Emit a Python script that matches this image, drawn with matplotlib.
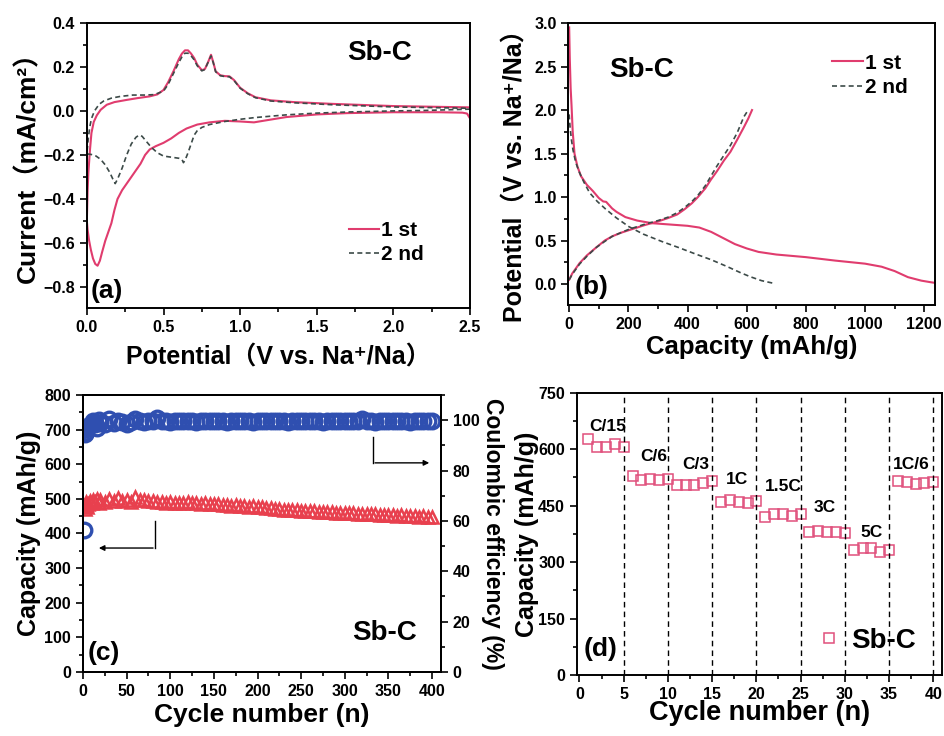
import matplotlib
matplotlib.use("Agg")
import matplotlib.pyplot as plt
import numpy as np
from matplotlib.ticker import MultipleLocator

plt.rcParams['font.family'] = ['Liberation Sans', 'DejaVu Sans', 'Noto Sans CJK SC']
plt.rcParams['font.weight'] = 'bold'
plt.rcParams['axes.labelweight'] = 'bold'
plt.rcParams['axes.linewidth'] = 1.4

RED = '#e03c6e'
DASH = '#3c4a48'
BLUE = '#2f4fb0'
TRI = '#e8404e'
SQ = '#e0507c'

# ---- (a) CV curves: potential (V) / current (mA/cm2)
cv1_v = [2.50, 2.48, 2.45, 2.3, 2.0, 1.7, 1.5, 1.3, 1.15, 1.09,
         1.0, 0.9, 0.8, 0.72, 0.65, 0.6, 0.55, 0.5, 0.45, 0.41,
         0.38, 0.35, 0.3, 0.26, 0.23, 0.2, 0.18, 0.16, 0.14, 0.12,
         0.1, 0.085, 0.07, 0.055, 0.04, 0.026, 0.015, 0.005, 0.0,
         0.005, 0.01, 0.02, 0.03, 0.045, 0.065, 0.09, 0.13, 0.18, 0.26,
         0.33, 0.41, 0.46, 0.5, 0.53, 0.565, 0.6, 0.62, 0.64, 0.66,
         0.68, 0.7, 0.72, 0.75, 0.77, 0.79, 0.81, 0.825, 0.84, 0.87,
         0.9, 0.93, 0.96, 1.0, 1.05, 1.1, 1.2, 1.35, 1.6, 2.0, 2.5]
cv1_i = [-0.035, -0.012, -0.008, -0.006, -0.006, -0.01, -0.016, -0.028, -0.045, -0.052,
         -0.048, -0.045, -0.052, -0.062, -0.08, -0.1, -0.125, -0.145, -0.16, -0.175,
         -0.2, -0.24, -0.29, -0.33, -0.36, -0.4, -0.45, -0.51, -0.55, -0.59,
         -0.64, -0.68, -0.703, -0.695, -0.67, -0.63, -0.59, -0.54, -0.5,
         -0.36, -0.28, -0.18, -0.1, -0.05, -0.02, 0.005, 0.028, 0.04, 0.05,
         0.058, 0.066, 0.075, 0.095, 0.13, 0.18, 0.235, 0.26, 0.275, 0.275,
         0.26, 0.24, 0.21, 0.185, 0.19, 0.22, 0.255, 0.22, 0.18, 0.162,
         0.158, 0.157, 0.14, 0.105, 0.08, 0.062, 0.048, 0.04, 0.032, 0.022, 0.016]

cv2_v = [2.5, 2.2, 2.0, 1.7, 1.5, 1.3, 1.1, 1.0, 0.9, 0.8,
         0.75, 0.72, 0.7, 0.68, 0.66, 0.64, 0.63, 0.62, 0.6, 0.55,
         0.5, 0.46, 0.42, 0.39, 0.36, 0.34, 0.32, 0.29, 0.26, 0.23,
         0.2, 0.185, 0.17, 0.15, 0.12, 0.09, 0.06, 0.03, 0.01, 0.0,
         0.005, 0.01, 0.02, 0.03, 0.05, 0.08, 0.11, 0.16, 0.22, 0.3,
         0.38, 0.44, 0.5, 0.53, 0.565, 0.6, 0.62, 0.64, 0.66, 0.68,
         0.7, 0.72, 0.75, 0.77, 0.79, 0.81, 0.825, 0.84, 0.87, 0.9,
         0.93, 0.96, 1.0, 1.05, 1.1, 1.2, 1.35, 1.6, 2.0, 2.5]
cv2_i = [0.008, 0.002, 0.0, -0.005, -0.01, -0.018, -0.03, -0.038, -0.048, -0.062,
         -0.075, -0.09, -0.11, -0.15, -0.19, -0.225, -0.235, -0.22, -0.215, -0.21,
         -0.205, -0.19, -0.165, -0.14, -0.115, -0.11, -0.12, -0.15, -0.2, -0.26,
         -0.31, -0.33, -0.31, -0.28, -0.245, -0.22, -0.205, -0.198, -0.196, -0.195,
         -0.16, -0.12, -0.07, -0.035, 0.0, 0.03, 0.045, 0.058, 0.066, 0.072,
         0.072, 0.074, 0.09, 0.12, 0.17, 0.22, 0.245, 0.262, 0.262, 0.25,
         0.232, 0.205, 0.182, 0.188, 0.22, 0.25, 0.218, 0.178, 0.16, 0.156,
         0.155, 0.138, 0.103, 0.078, 0.06, 0.045, 0.037, 0.028, 0.018, 0.012]

# ---- (b) charge / discharge: capacity (mAh/g) / potential (V)
dis1_cap = [0, 2, 5, 8, 12, 18, 28, 40, 60, 80, 100, 115, 125, 145, 160, 190, 230, 280,
            340, 400, 440, 480, 520, 560, 600, 640, 700, 800, 900, 1000, 1056, 1100,
            1145, 1190, 1225, 1245]
dis1_v = [2.95, 2.6, 2.25, 2.05, 1.75, 1.5, 1.35, 1.24, 1.14, 1.07, 0.99, 0.95, 0.945, 0.87,
          0.83, 0.77, 0.73, 0.7, 0.685, 0.67, 0.65, 0.6, 0.53, 0.46, 0.41, 0.37, 0.34,
          0.31, 0.27, 0.235, 0.2, 0.15, 0.08, 0.04, 0.02, 0.01]
chg1_cap = [0, 10, 35, 60, 91, 120, 146, 175, 202, 257, 300, 335, 365, 390, 415, 435,
            460, 479, 500, 523, 545, 568, 590, 605, 618]
chg1_v = [0.05, 0.12, 0.24, 0.33, 0.42, 0.5, 0.55, 0.59, 0.62, 0.68, 0.72, 0.76, 0.8,
          0.86, 0.93, 1.0, 1.1, 1.2, 1.3, 1.42, 1.52, 1.66, 1.8, 1.9, 2.0]
dis2_cap = [0, 3, 8, 13, 22, 35, 50, 69, 95, 124, 160, 202, 250, 313, 370, 424, 480,
            535, 580, 612, 650, 690]
dis2_v = [1.95, 1.8, 1.65, 1.54, 1.4, 1.28, 1.17, 1.05, 0.95, 0.86, 0.76, 0.66, 0.575,
          0.49, 0.42, 0.35, 0.28, 0.2, 0.13, 0.085, 0.04, 0.01]
chg2_cap = [0, 10, 35, 60, 91, 120, 146, 202, 257, 300, 335, 365, 390, 415, 435, 460,
            479, 500, 523, 546, 568, 590, 605]
chg2_v = [0.05, 0.11, 0.23, 0.32, 0.42, 0.49, 0.55, 0.63, 0.69, 0.73, 0.77, 0.82, 0.88,
          0.95, 1.02, 1.13, 1.24, 1.36, 1.48, 1.6, 1.74, 1.92, 2.0]

# ---- (c) long cycling
cyc_c = [1, 2, 3, 4, 5, 6, 8, 10, 12, 14, 16, 18, 20] + list(range(25, 401, 5))
cap_c = [478, 470, 482, 490, 476, 485, 495, 488, 498, 490, 500, 487, 496,
         492, 500, 495, 502, 494, 498, 492, 505, 496, 497, 493, 495, 490, 491, 489, 490,
         488, 489, 487, 490, 488, 489, 486, 487, 485, 486, 484, 483, 482, 480, 481, 478,
         479, 477, 478, 477, 476, 474, 473, 471, 470, 469, 468, 467, 468, 466, 465, 466,
         464, 463, 462, 463, 461, 460, 460, 459, 458, 458, 457, 456, 457, 455, 456, 454,
         453, 454, 452, 451, 452, 450, 451, 450, 449, 450, 449, 448]
ce_c = [56.4, 94.5, 95.5, 96.5, 97.0, 97.8, 98.2, 98.6, 99.8, 98.4, 96.8, 100.2, 99.0,
        98.5, 100.3, 98.8, 99.6, 99.2, 98.6, 99.3, 100.6, 99.5, 99.4, 99.6, 99.5, 100.8,
        99.5, 99.6, 99.4, 99.6, 99.5, 99.7, 99.5, 99.6, 99.4, 99.6, 99.5, 99.6, 99.7,
        99.5, 99.6, 99.4, 99.6, 99.5, 99.6, 99.5, 99.7, 99.4, 99.6, 99.5, 99.6, 99.5,
        99.7, 99.5, 99.6, 99.4, 99.6, 99.5, 99.6, 99.5, 99.7, 99.5, 99.6, 99.4, 99.6,
        99.5, 99.6, 99.5, 99.7, 99.5, 99.6, 99.5, 100.3, 99.6, 99.5, 99.4, 99.6, 99.5,
        99.6, 99.5, 99.7, 99.5, 99.6, 99.4, 99.6, 99.5, 99.6, 99.5, 99.7]

# ---- (d) rate capability
cyc_d = list(range(1, 41))
cap_d = [628, 605, 605, 615, 605, 528, 518, 520, 518, 522,
         505, 505, 505, 510, 515, 460, 465, 460, 458, 462,
         420, 428, 427, 422, 427, 380, 382, 380, 380, 377,
         333, 337, 337, 328, 333, 515, 513, 508, 510, 512]
rate_names = ['C/15', 'C/6', 'C/3', '1C', '1.5C', '3C', '5C', '1C/6']
rate_x = [3.2, 8.4, 13.2, 17.8, 23.0, 27.7, 33.0, 37.5]
rate_y = [661, 581, 559, 519, 501, 444, 380, 559]
boundaries = [5, 10, 15, 20, 25, 30, 35, 40]

fig = plt.figure(figsize=(9.44, 7.36), dpi=100)
axa = fig.add_axes([0.092, 0.5815, 0.406, 0.3875])
axb = fig.add_axes([0.602, 0.5856, 0.388, 0.3831])
axc = fig.add_axes([0.0879, 0.087, 0.379, 0.3763])
axd = fig.add_axes([0.611, 0.083, 0.387, 0.3832])

TICK = 11.5
XLAB = 18.5
YLAB = 18
SB = 20
PAN = 19


def style(ax, right=False):
    ax.tick_params(which='both', direction='out', top=False, right=right, labelsize=TICK, width=1.2)
    ax.tick_params(which='major', length=5)
    ax.tick_params(which='minor', length=3)
    for t in ax.get_xticklabels() + ax.get_yticklabels():
        t.set_fontweight('bold')


# (a)
axa.plot(cv1_v, cv1_i, color=RED, lw=1.5, label='1 st')
axa.plot(cv2_v, cv2_i, color=DASH, lw=1.2, ls=(0, (3, 2)), label='2 nd')
axa.set_xlim(0, 2.5)
axa.set_ylim(-0.895, 0.4)
axa.xaxis.set_major_locator(MultipleLocator(0.5))
axa.xaxis.set_minor_locator(MultipleLocator(0.25))
axa.yaxis.set_major_locator(MultipleLocator(0.2))
axa.yaxis.set_minor_locator(MultipleLocator(0.1))
style(axa)
axa.set_xlabel('Potential（V vs. Na⁺/Na）', fontsize=18, va='center')
axa.set_ylabel('Current（mA/cm²）', fontsize=19, va='center')
axa.xaxis.set_label_coords(0.5, -0.172)
axa.yaxis.set_label_coords(-0.154, 0.515)
axa.text(1.91, 0.264, 'Sb-C', fontsize=SB, ha='center', va='center')
axa.text(0.025, -0.82, '(a)', fontsize=PAN, ha='left', va='center')
axa.legend(loc='center left', bbox_to_anchor=(0.635, 0.23), frameon=False,
           fontsize=15, handlelength=1.45, handletextpad=0.1, labelspacing=0.25)

# (b)
axb.plot(dis1_cap, dis1_v, color=RED, lw=1.5, label='1 st')
axb.plot(chg1_cap, chg1_v, color=RED, lw=1.5)
axb.plot(dis2_cap, dis2_v, color=DASH, lw=1.2, ls=(0, (3, 2)), label='2 nd')
axb.plot(chg2_cap, chg2_v, color=DASH, lw=1.2, ls=(0, (3, 2)))
axb.set_xlim(-3, 1235)
axb.set_ylim(-0.24, 3.0)
axb.xaxis.set_major_locator(MultipleLocator(200))
axb.xaxis.set_minor_locator(MultipleLocator(100))
axb.yaxis.set_major_locator(MultipleLocator(0.5))
axb.yaxis.set_minor_locator(MultipleLocator(0.25))
style(axb)
axb.set_xlabel('Capacity (mAh/g)', fontsize=XLAB, va='center')
axb.set_ylabel('Potential（V vs. Na⁺/Na）', fontsize=YLAB, va='center')
axb.xaxis.set_label_coords(0.5, -0.149)
axb.yaxis.set_label_coords(-0.144, 0.48)
axb.text(245, 2.46, 'Sb-C', fontsize=SB, ha='center', va='center')
axb.text(20, -0.03, '(b)', fontsize=PAN, ha='left', va='center')
axb.legend(loc='center left', bbox_to_anchor=(0.67, 0.815), frameon=False,
           fontsize=15, handlelength=1.45, handletextpad=0.1, labelspacing=0.25)

# (c)
axc2 = axc.twinx()
axc.plot(cyc_c, cap_c, ls='none', marker='^', ms=9, mfc='none', mec=TRI, mew=1.8)
axc2.plot(cyc_c, ce_c, ls='none', marker='o', ms=10.5, mfc='none', mec=BLUE, mew=2.4)
axc.set_xlim(0, 410)
axc.set_ylim(0, 800)
axc2.set_ylim(0, 110)
axc.xaxis.set_major_locator(MultipleLocator(50))
axc.xaxis.set_minor_locator(MultipleLocator(25))
axc.yaxis.set_major_locator(MultipleLocator(100))
axc.yaxis.set_minor_locator(MultipleLocator(50))
axc2.yaxis.set_major_locator(MultipleLocator(20))
axc2.yaxis.set_minor_locator(MultipleLocator(10))
style(axc)
style(axc2, right=True)
axc.set_xlabel('Cycle number (n)', fontsize=19, va='center')
axc.set_ylabel('Capacity (mAh/g)', fontsize=YLAB, va='center')
axc2.set_ylabel('Coulombic efficiency (%)', fontsize=16.5, rotation=270, va='center')
axc.xaxis.set_label_coords(0.5, -0.155)
axc.yaxis.set_label_coords(-0.151, 0.5)
axc2.yaxis.set_label_coords(1.145, 0.5)
axc.text(346, 112, 'Sb-C', fontsize=SB, ha='center', va='center')
axc.text(5, 55, '(c)', fontsize=PAN, ha='left', va='center')
axc.plot([332, 332], [679, 604], color='black', lw=1)
axc.annotate('', xy=(400, 604), xytext=(331.5, 604),
             arrowprops=dict(arrowstyle='-|>', color='black', lw=1, mutation_scale=8))
axc.plot([83, 83], [436, 358], color='black', lw=1)
axc.annotate('', xy=(15, 358), xytext=(83.5, 358),
             arrowprops=dict(arrowstyle='-|>', color='black', lw=1, mutation_scale=8))

# (d)
axd.plot(cyc_d, cap_d, ls='none', marker='s', ms=6.5, mfc='none', mec=SQ, mew=1.1, label='Sb-C')
for b in boundaries:
    axd.axvline(b, color='black', lw=1, ls=(0, (4, 3)))
for name, x, y in zip(rate_names, rate_x, rate_y):
    axd.text(x, y, name, fontsize=12.5, ha='center', va='center')
axd.set_xlim(-0.3, 41)
axd.set_ylim(0, 750)
axd.xaxis.set_major_locator(MultipleLocator(5))
axd.xaxis.set_minor_locator(MultipleLocator(2.5))
axd.yaxis.set_major_locator(MultipleLocator(150))
axd.yaxis.set_minor_locator(MultipleLocator(75))
style(axd)
axd.set_xlabel('Cycle number (n)', fontsize=19.5, va='center')
axd.set_ylabel('Capacity (mAh/g)', fontsize=YLAB, va='center')
axd.xaxis.set_label_coords(0.5, -0.135)
axd.yaxis.set_label_coords(-0.137, 0.5)
axd.text(0.5, 70, '(d)', fontsize=PAN, ha='left', va='center')
axd.legend(loc='center left', bbox_to_anchor=(0.585, 0.12), frameon=False,
           fontsize=SB, handlelength=1.0, handletextpad=0.3, markerscale=1.15)

fig.savefig('out.png', dpi=100)
